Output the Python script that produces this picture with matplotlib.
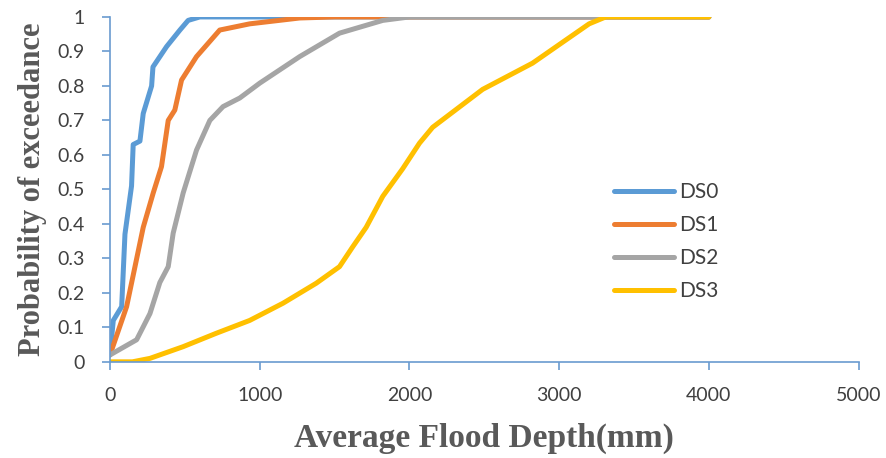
import matplotlib
matplotlib.use("Agg")
import matplotlib.pyplot as plt

# Data
ds0_x = [0, 22, 78, 100, 144, 155, 200, 222, 278, 287, 378, 467, 522, 600, 4000]
ds0_y = [0.02, 0.12, 0.16, 0.37, 0.51, 0.63, 0.64, 0.72, 0.80, 0.855, 0.914, 0.962, 0.99, 1.0, 1.0]

ds1_x = [0, 111, 167, 222, 289, 344, 389, 433, 478, 578, 733, 933, 1267, 1500, 4000]
ds1_y = [0.02, 0.16, 0.276, 0.39, 0.49, 0.566, 0.70, 0.73, 0.817, 0.885, 0.962, 0.98, 0.997, 1.0, 1.0]

ds2_x = [0, 178, 267, 333, 389, 422, 489, 578, 667, 755, 867, 1000, 1267, 1533, 1822, 2000, 4000]
ds2_y = [0.02, 0.064, 0.14, 0.23, 0.276, 0.373, 0.49, 0.614, 0.70, 0.74, 0.765, 0.808, 0.885, 0.953, 0.99, 1.0, 1.0]

ds3_x = [0, 150, 267, 489, 711, 933, 1156, 1378, 1533, 1622, 1711, 1822, 1955, 2067, 2155, 2489, 2822, 3044, 3200, 3311, 4000]
ds3_y = [0.0, 0.0, 0.01, 0.044, 0.083, 0.12, 0.17, 0.228, 0.276, 0.334, 0.39, 0.48, 0.56, 0.634, 0.68, 0.79, 0.866, 0.933, 0.98, 1.0, 1.0]

series_names = ["DS0", "DS1", "DS2", "DS3"]
colors = ["#5B9BD5", "#ED7D31", "#A5A5A5", "#FFC000"]

x_ticks = [0, 1000, 2000, 3000, 4000, 5000]
y_ticks = [0, 0.1, 0.2, 0.3, 0.4, 0.5, 0.6, 0.7, 0.8, 0.9, 1]
y_tick_labels = ["0", "0.1", "0.2", "0.3", "0.4", "0.5", "0.6", "0.7", "0.8", "0.9", "1"]

fig = plt.figure(figsize=(8.87, 4.58), dpi=100)
ax = fig.add_axes([0.124, 0.210, 0.844, 0.753])

for xs, ys, name, c in zip([ds0_x, ds1_x, ds2_x, ds3_x], [ds0_y, ds1_y, ds2_y, ds3_y], series_names, colors):
    ax.plot(xs, ys, color=c, lw=3.6, label=name, solid_capstyle="round", solid_joinstyle="round")

ax.set_xlim(0, 5000)
ax.set_ylim(0, 1)
ax.set_xticks(x_ticks)
ax.set_yticks(y_ticks)
ax.set_yticklabels(y_tick_labels)

axis_color = "#6A9BD0"
for s in ["top", "right"]:
    ax.spines[s].set_visible(False)
for s in ["left", "bottom"]:
    ax.spines[s].set_color(axis_color)
    ax.spines[s].set_linewidth(1.2)
ax.tick_params(axis="both", colors=axis_color, length=6, width=1.2, direction="out",
               labelcolor="#404040", labelsize=14)
for lab in ax.get_xticklabels() + ax.get_yticklabels():
    lab.set_family("Lato")
ax.tick_params(axis="x", pad=12)
ax.tick_params(axis="y", pad=12)

ax.set_xlabel("Average Flood Depth(mm)", family="Liberation Serif", fontweight="bold",
              fontsize=24, color="#595959", labelpad=14)
ax.set_ylabel("Probability of exceedance", family="Liberation Serif", fontweight="bold",
              fontsize=22, color="#595959", labelpad=8)

leg = ax.legend(loc="upper left", bbox_to_anchor=(0.662, 0.545), frameon=False,
                prop={"family": "Lato", "size": 15}, handlelength=2.9,
                labelspacing=0.62, handletextpad=0.25, borderaxespad=0)
for t in leg.get_texts():
    t.set_color("#404040")

fig.savefig("out.png", dpi=100, facecolor="white")
